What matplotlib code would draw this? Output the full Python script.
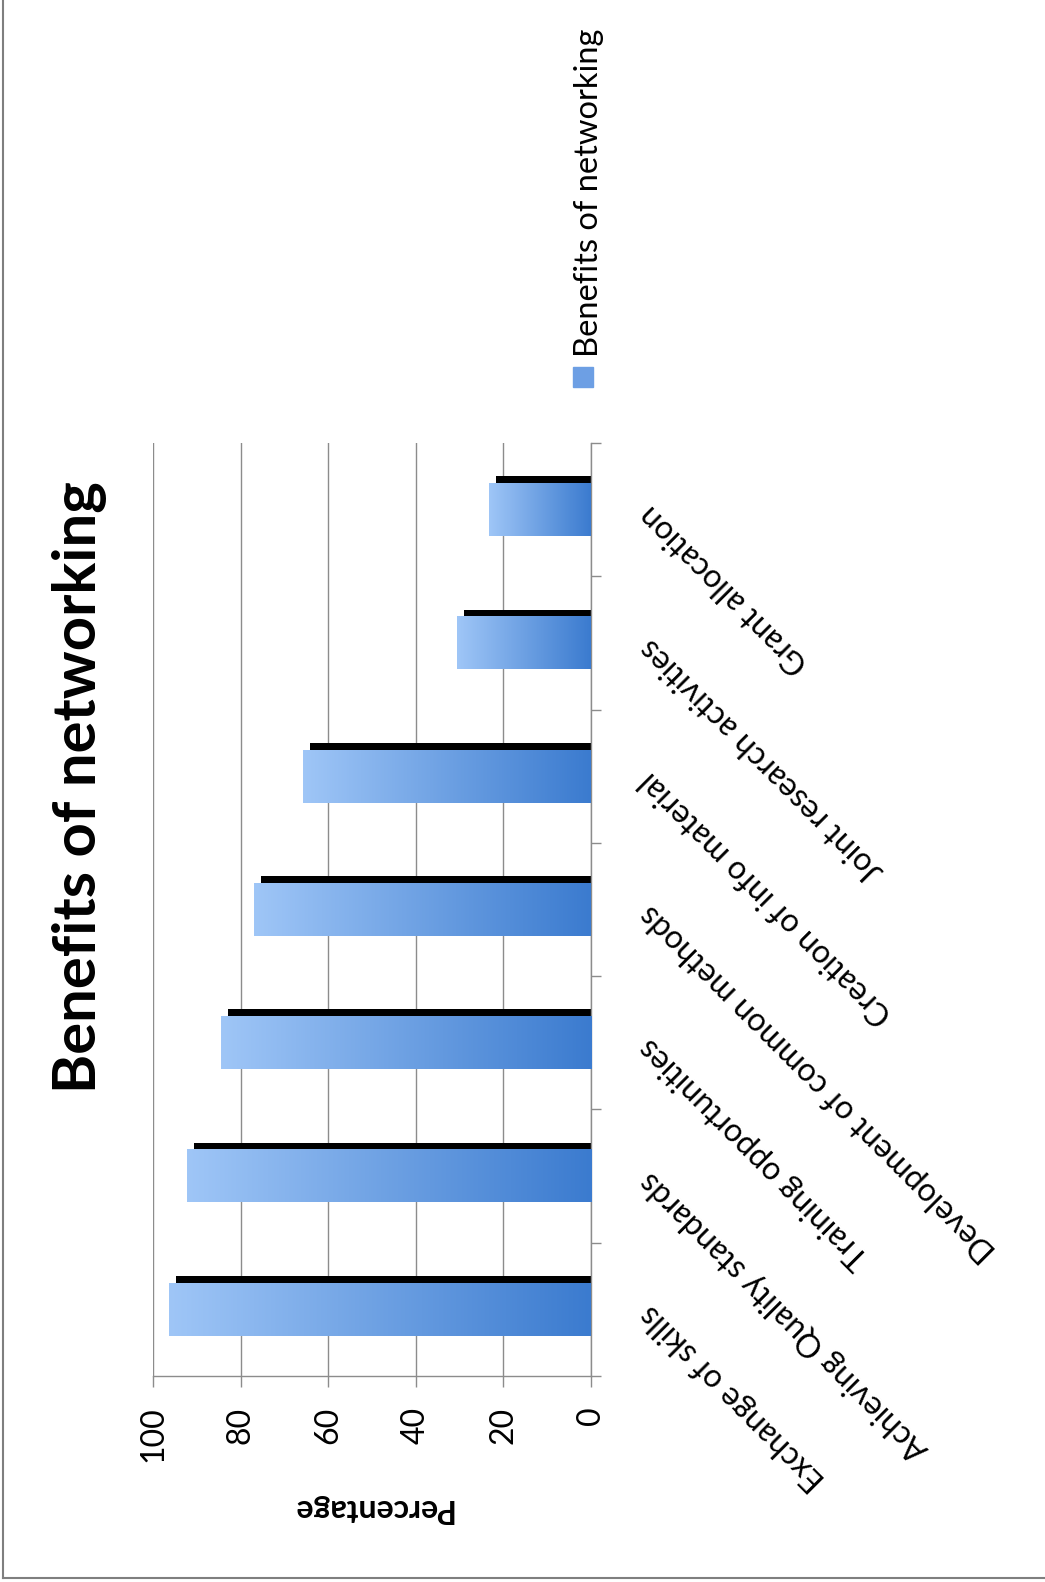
"""
Benefits of networking - rotated column chart, redrawn as horizontal bars
"""

import numpy as np
from matplotlib import pyplot as plt
from matplotlib.colors import LinearSegmentedColormap
from matplotlib.patches import Rectangle
from matplotlib.lines import Line2D

categories = ['Exchange of skills', 'Achieving Quality standards', 'Training opportunities',
              'Development of common methods', 'Creation of info material',
              'Joint research activities', 'Grant allocation']
percentages = [96.3, 92.4, 84.6, 77.0, 65.7, 30.6, 23.2]
value_ticks = [0, 20, 40, 60, 80, 100]
chart_title = 'Benefits of networking'
series_name = 'Benefits of networking'
axis_title = 'Percentage'

W, H = 1045, 1582   # output size in pixels
grid_grey = '#8c8c8c'
plt.rcParams['font.family'] = ['Lato', 'DejaVu Sans']


def fx(px):
    return px / W


def fy(py):
    return 1 - py / H


fig = plt.figure(figsize=(W / 100, H / 100), dpi=100)
ax = fig.add_axes([fx(153.3), fy(1376), fx(590.7) - fx(153.3), fy(443) - fy(1376)])

bar_h = 0.395
shadow_dy = 7 / 133.3          # shadow shifted ~7px up
shadow_dx = 7 * 100 / 437.4    # and ~7px towards zero
cmap = LinearSegmentedColormap.from_list('bar', ['#9fc6f7', '#3b7bcf'])
grad = np.linspace(0, 1, 256).reshape(1, -1)

y = np.arange(len(categories))
ax.barh(y + shadow_dy, np.array(percentages) - shadow_dx, height=bar_h, color='black', zorder=2)
for yi, v in zip(y, percentages):
    ax.imshow(grad, cmap=cmap, extent=[v, 0, yi - bar_h / 2, yi + bar_h / 2],
              aspect='auto', zorder=3, interpolation='bilinear')

ax.set_xlim(100, 0)
ax.set_ylim(-0.5, len(categories) - 0.5)

# value axis (bottom)
ax.set_xticks(value_ticks)
ax.set_xticklabels([str(t) for t in value_ticks], rotation=90, fontsize=23)
ax.tick_params(axis='x', length=8, width=1, color=grid_grey, pad=14)
ax.xaxis.grid(True, color=grid_grey, lw=1.0)
ax.set_axisbelow(True)

# category axis (right side, value 0)
ax.yaxis.tick_right()
ax.set_yticks(np.arange(-0.5, len(categories), 1))
ax.set_yticklabels([])
ax.tick_params(axis='y', length=7, width=1, color=grid_grey)
for s in ['top', 'left']:
    ax.spines[s].set_visible(False)
for s in ['right', 'bottom']:
    ax.spines[s].set_color(grid_grey)
    ax.spines[s].set_linewidth(1.0)

for yi, name in zip(y, categories):
    ax.text(1.124, yi, name, transform=ax.get_yaxis_transform(), rotation=135,
            rotation_mode='anchor', ha='right', va='center', fontsize=23)

fig.text(fx(372), fy(1508), axis_title, rotation=180, ha='center', va='center',
         fontsize=23, fontweight='bold')
fig.text(fx(80), fy(787), chart_title, rotation=90, ha='center', va='center',
         fontsize=43, fontweight='bold')

# legend
fig.add_artist(Rectangle((fx(573), fy(387)), 20 / W, 20 / H, transform=fig.transFigure,
                         color='#6d9fe4'))
fig.text(fx(589), fy(357), series_name, rotation=90, ha='center', va='bottom', fontsize=23.5)

# frame
fig.add_artist(Line2D([fx(3), fx(3)], [fy(0), fy(1578)], color='#7f7f7f', lw=1.5))
fig.add_artist(Line2D([fx(3), fx(1045)], [fy(1578), fy(1578)], color='#7f7f7f', lw=1.5))

fig.savefig('out.png', dpi=100)
